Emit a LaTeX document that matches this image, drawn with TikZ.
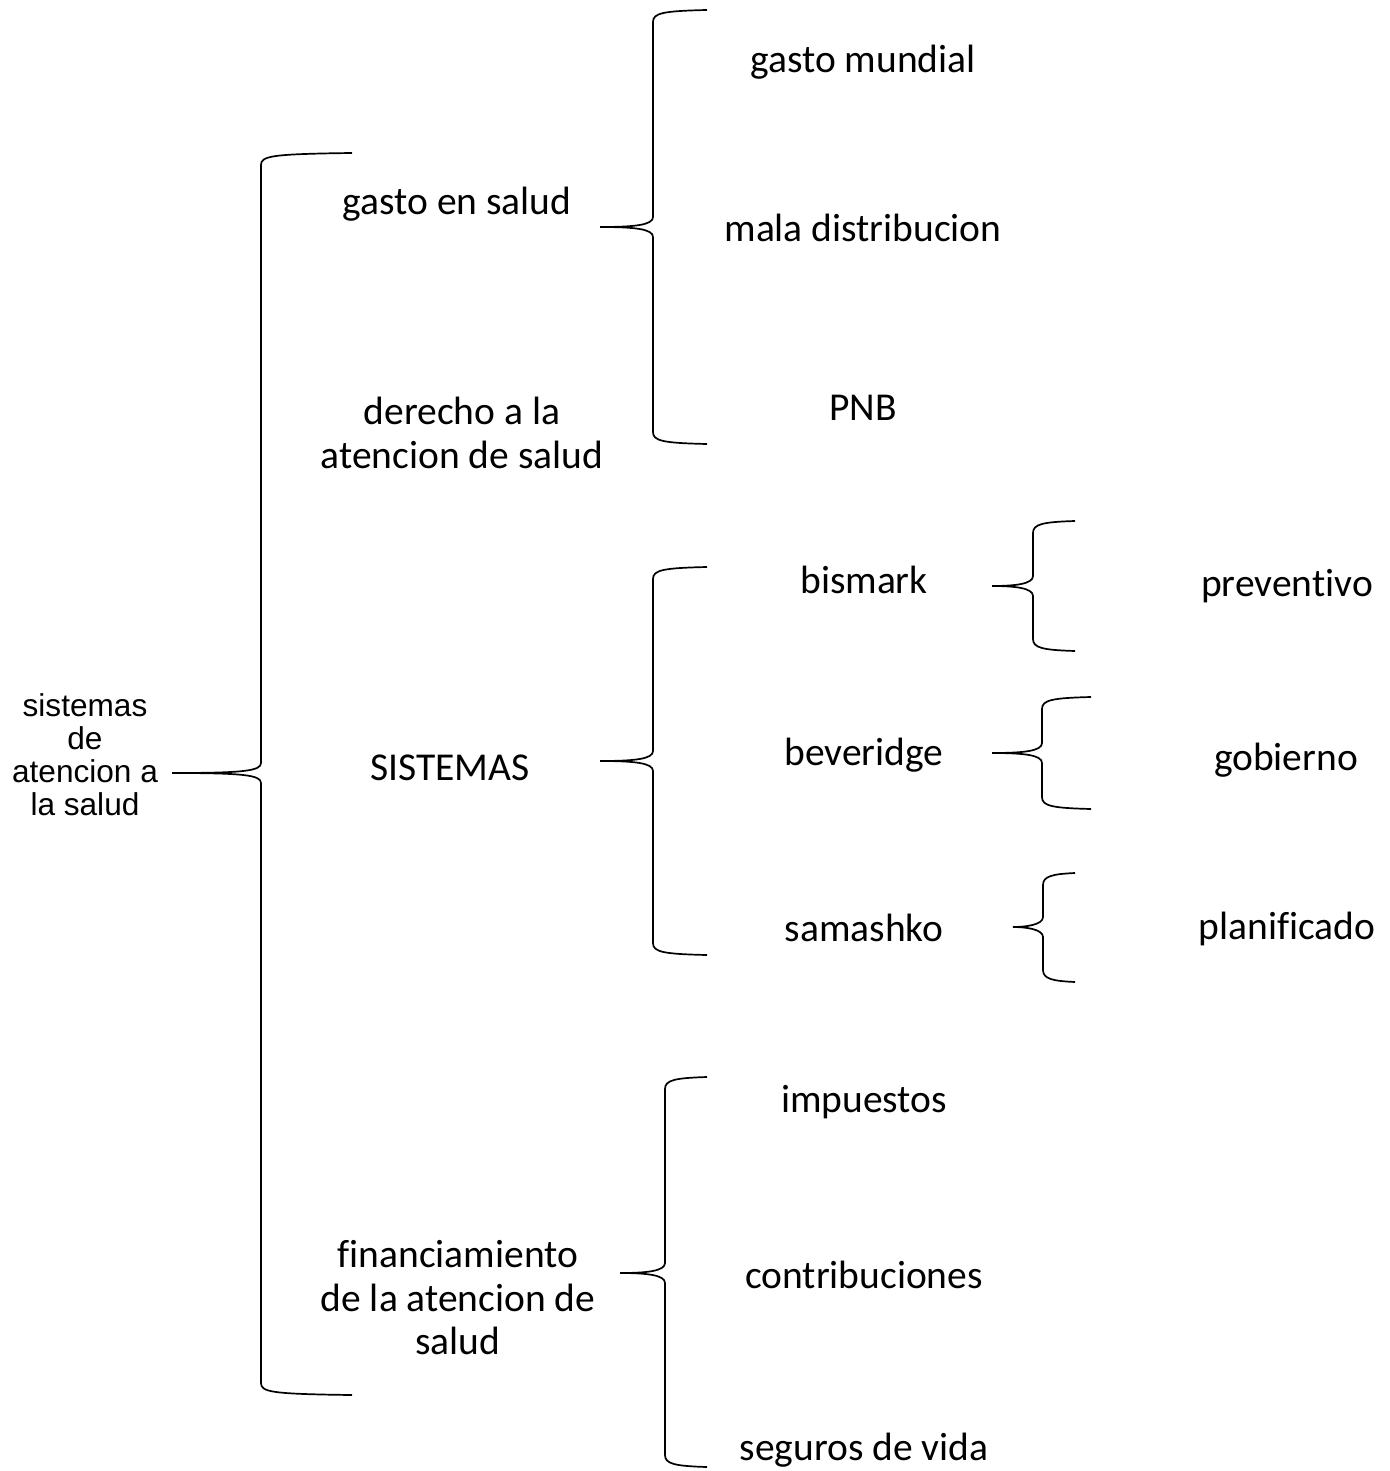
\documentclass[tikz,border=0pt]{standalone}
\usepackage{fontspec}
\setmainfont{Carlito}[Ligatures=NoCommon]
\newfontfamily\arialfont{Liberation Sans}
% llave: nombre, x punta, y punta, x vertical, x extremos, y arriba, y abajo
\newcommand{\llave}[7]{%
  \coordinate (#1) at (#2,#3);
  \draw[llave] (#5,#6) .. controls (#4+10,#6+1) and (#4,#6+3) .. (#4,#6+12)
    -- (#4,#3-10) .. controls (#4,#3-2) and (#4-18,#3) .. (#1)
    .. controls (#4-18,#3) and (#4,#3+2) .. (#4,#3+10)
    -- (#4,#7-12) .. controls (#4,#7-3) and (#4+10,#7-1) .. (#5,#7);
}
\tikzset{
  llave/.style={line width=0.85pt, black},
  rama/.style={font=\fontsize{19.75}{21.75}\selectfont, align=center, inner sep=0pt},
  raiz/.style={font=\arialfont\fontsize{15.8}{16.5}\selectfont, align=center, inner sep=0pt}
}
\begin{document}
\begin{tikzpicture}[x=0.5pt,y=-0.5pt]
    \useasboundingbox (0,0) rectangle (1390,1471);
    \node[raiz] (sistemas) at (85,755) {sistemas\\de\\atencion a\\la salud};
    \node[rama] (gasto) at (457,204) {gasto en salud};
    \node[rama] (derecho) at (462,433) {derecho a la\\atencion de salud};
    \node[rama] (modelos) at (450,768) {SISTEMAS};
    \node[rama] (financ) at (458,1298) {financiamiento\\de la atencion de\\salud};
    \node[rama] (mundial) at (863,62) {gasto mundial};
    \node[rama] (mala) at (863,228) {mala distribucion};
    \node[rama] (pnb) at (863,408) {PNB};
    \node[rama] (bismark) at (864,580) {bismark};
    \node[rama] (beveridge) at (864,755) {beveridge};
    \node[rama] (samashko) at (864,928) {samashko};
    \node[rama] (preventivo) at (1287,586) {preventivo};
    \node[rama] (gobierno) at (1286,760) {gobierno};
    \node[rama] (planificado) at (1287,929) {planificado};
    \node[rama] (impuestos) at (864,1102) {impuestos};
    \node[rama] (contrib) at (864,1275) {contribuciones};
    \node[rama] (seguros) at (864,1450) {seguros de vida};
    \llave{p-raiz}{172}{773}{261}{352}{153}{1395}
    \llave{p-gasto}{600}{227}{653}{707}{10}{444}
    \llave{p-sist}{600}{761}{653}{707}{567}{955}
    \llave{p-fin}{620}{1273}{665}{707}{1077}{1467}
    \llave{p-bis}{992}{586}{1033}{1075}{521}{651}
    \llave{p-bev}{992}{753}{1042}{1091}{697}{809}
    \llave{p-sam}{1013}{927}{1043}{1075}{873}{982}
\end{tikzpicture}
\end{document}
